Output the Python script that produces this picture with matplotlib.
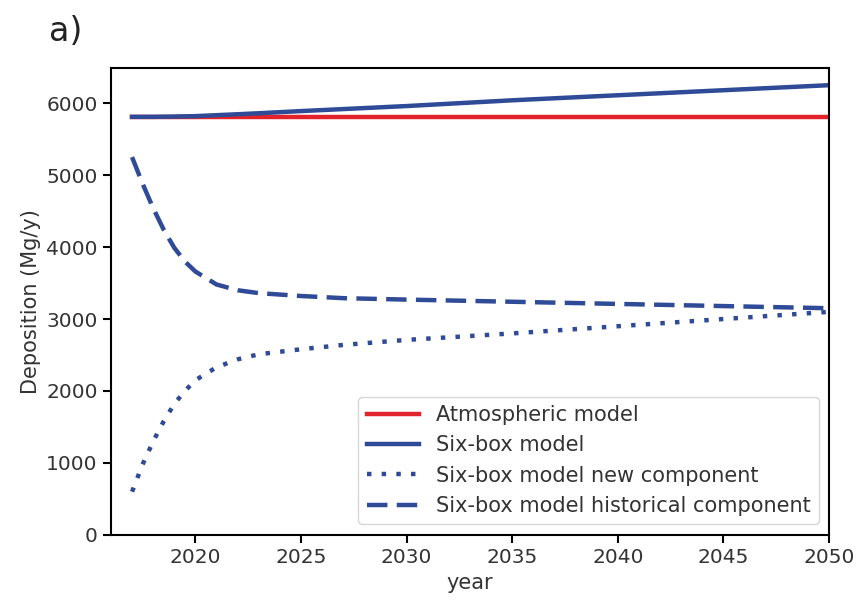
import numpy as np
import matplotlib
matplotlib.use('Agg')
import matplotlib.pyplot as plt

years = [2017, 2017.5, 2018, 2018.5, 2019, 2019.5, 2020, 2021, 2022, 2023,
         2025, 2027, 2030, 2035, 2040, 2045, 2050]

atmospheric = [5810] * len(years)
six_box = [5810, 5810, 5810, 5812, 5814, 5817, 5820, 5833, 5846, 5860,
           5890, 5918, 5960, 6040, 6110, 6180, 6250]
new_component = [600, 980, 1300, 1580, 1820, 2000, 2150, 2330, 2440, 2510,
                 2580, 2640, 2710, 2800, 2900, 3000, 3100]
historical_component = [5250, 4880, 4540, 4240, 3990, 3800, 3660, 3480, 3400, 3360,
                        3320, 3290, 3270, 3240, 3210, 3180, 3150]

red = '#e3232b'
blue = '#2f4a96'
txt = '#333333'

fig = plt.figure(figsize=(8.6, 6.01), dpi=100)
ax = fig.add_axes([0.129, 0.110, 0.835, 0.777])

ax.plot(years, atmospheric, color=red, lw=3.2, label='Atmospheric model')
ax.plot(years, six_box, color=blue, lw=3.2, label='Six-box model')
ax.plot(years, new_component, color=blue, lw=3.2, linestyle=(0, (1, 2.3)),
        label='Six-box model new component')
ax.plot(years, historical_component, color=blue, lw=3.2, linestyle=(0, (4.6, 2.1)),
        label='Six-box model historical component')

ax.set_xlim(2016, 2050)
ax.set_ylim(0, 6490)
ax.set_xticks([2020, 2025, 2030, 2035, 2040, 2045, 2050])
ax.set_yticks([0, 1000, 2000, 3000, 4000, 5000, 6000])
ax.tick_params(labelsize=14.5, labelcolor=txt, width=1.5, length=6)
for s in ax.spines.values():
    s.set_linewidth(1.5)

ax.set_xlabel('year', fontsize=15, color=txt)
ax.set_ylabel('Deposition (Mg/y)', fontsize=15, color=txt)

leg = ax.legend(loc='lower right', fontsize=15, handlelength=2.5)
for t in leg.get_texts():
    t.set_color(txt)

fig.text(0.057, 0.932, 'a)', fontsize=24, color='#222222')

plt.savefig('out.png', dpi=100)
